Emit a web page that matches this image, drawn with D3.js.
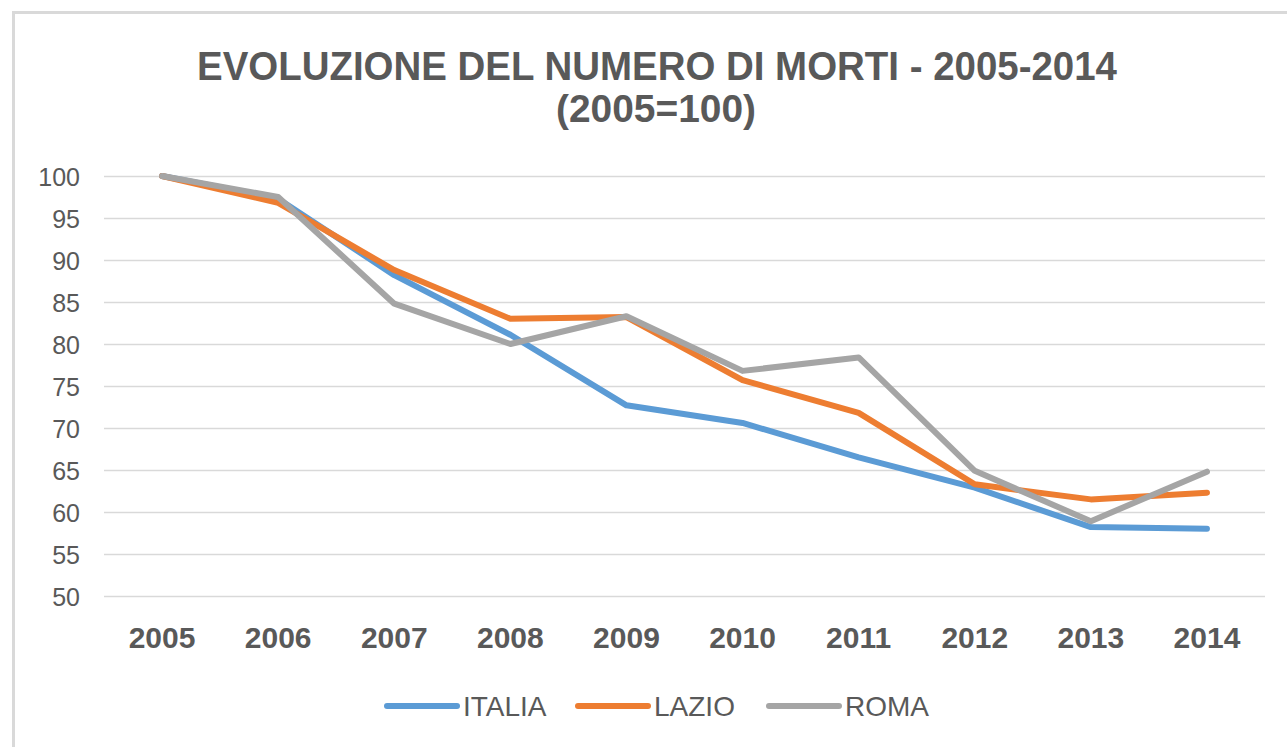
<!DOCTYPE html>
<html>
<head>
<meta charset="utf-8">
<script src="https://cdnjs.cloudflare.com/ajax/libs/d3/7.8.5/d3.min.js"></script>
<style>
  body { margin: 0; background: #fff; }
  svg { display: block; }
</style>
</head>
<body>
<svg id="chart"></svg>
<script>
// dati (2005 = 100)
var anni = ['2005', '2006', '2007', '2008', '2009', '2010', '2011', '2012', '2013', '2014'];
var italia = [100, 97.3, 88.2, 81.1, 72.7, 70.6, 66.5, 62.9, 58.2, 58.0];
var lazio = [100, 96.8, 88.8, 83.0, 83.2, 75.7, 71.8, 63.3, 61.5, 62.3];
var roma = [100, 97.5, 84.8, 80.0, 83.3, 76.8, 78.4, 64.9, 58.9, 64.8];
var yTicks = [50, 55, 60, 65, 70, 75, 80, 85, 90, 95, 100];
var serieNomi = ['ITALIA', 'LAZIO', 'ROMA'];
var serieColori = ['#5B9BD5', '#ED7D31', '#A5A5A5'];

var width = 1287, height = 747;
// niente "top": e' window.top
var plotLeft = 104, plotRight = 1265, plotTop = 176, plotBottom = 596;
var grigio = '#595959';

var svg = d3.select('#chart')
    .attr('width', width)
    .attr('height', height);

// cornice del grafico (esce dalla pagina a destra e in basso)
svg.append('rect')
    .attr('x', 13.5).attr('y', 12.5)
    .attr('width', 1400).attr('height', 900)
    .attr('fill', 'none')
    .attr('stroke', '#D9D9D9')
    .attr('stroke-width', 3);

var x = d3.scaleBand()
    .domain(anni)
    .range([plotLeft, plotRight]);

var y = d3.scaleLinear()
    .domain([50, 100])
    .range([plotBottom, plotTop]);

// griglia orizzontale
svg.append('g')
    .selectAll('line')
    .data(yTicks)
    .enter()
    .append('line')
    .attr('x1', plotLeft).attr('x2', plotRight)
    .attr('y1', function(d) { return Math.round(y(d)) + 0.5; })
    .attr('y2', function(d) { return Math.round(y(d)) + 0.5; })
    .attr('stroke', '#D9D9D9')
    .attr('stroke-width', 1.5);

// asse Y
var yAxis = d3.axisLeft(y).tickValues(yTicks).tickSize(0).tickPadding(0);
var gy = svg.append('g')
    .attr('transform', 'translate(80,0)')
    .call(yAxis);
gy.select('.domain').remove();
gy.selectAll('text')
    .attr('font-family', 'Liberation Sans, Arial, sans-serif')
    .attr('font-size', 25)
    .attr('fill', grigio)
    .attr('dy', '0.36em');

// asse X
var xAxis = d3.axisBottom(x).tickSize(0).tickPadding(0);
var gx = svg.append('g')
    .attr('transform', 'translate(0,' + plotBottom + ')')
    .call(xAxis);
gx.select('.domain').remove();
gx.selectAll('text')
    .attr('font-family', 'Liberation Sans, Arial, sans-serif')
    .attr('font-size', 30)
    .attr('font-weight', 'bold')
    .attr('fill', grigio)
    .attr('y', 52)
    .attr('dy', 0);

// linee
var serie = [italia, lazio, roma];
var line = d3.line()
    .x(function(d, i) { return x(anni[i]) + x.bandwidth() / 2; })
    .y(function(d) { return y(d); });

svg.append('g')
    .selectAll('path')
    .data(serie)
    .enter()
    .append('path')
    .attr('d', line)
    .attr('fill', 'none')
    .attr('stroke', function(d, i) { return serieColori[i]; })
    .attr('stroke-width', 6)
    .attr('stroke-linejoin', 'round')
    .attr('stroke-linecap', 'round');

// titolo
svg.append('text')
    .attr('x', 657).attr('y', 80)
    .attr('text-anchor', 'middle')
    .attr('font-family', 'Liberation Sans, Arial, sans-serif')
    .attr('font-size', 41)
    .attr('font-weight', 'bold')
    .attr('fill', grigio)
    .attr('textLength', 920)
    .attr('lengthAdjust', 'spacingAndGlyphs')
    .text('EVOLUZIONE DEL NUMERO DI MORTI - 2005-2014');

svg.append('text')
    .attr('x', 656).attr('y', 122)
    .attr('text-anchor', 'middle')
    .attr('font-family', 'Liberation Sans, Arial, sans-serif')
    .attr('font-size', 38)
    .attr('font-weight', 'bold')
    .attr('fill', grigio)
    .attr('textLength', 200)
    .attr('lengthAdjust', 'spacingAndGlyphs')
    .text('(2005=100)');

// legenda
var legX = [387, 578, 769];
var leg = svg.append('g')
    .selectAll('g')
    .data(serieNomi)
    .enter()
    .append('g')
    .attr('transform', function(d, i) { return 'translate(' + legX[i] + ',706)'; });

leg.append('line')
    .attr('x1', 0).attr('x2', 70)
    .attr('stroke', function(d, i) { return serieColori[i]; })
    .attr('stroke-width', 6)
    .attr('stroke-linecap', 'round');

leg.append('text')
    .attr('x', 76).attr('y', 10)
    .attr('font-family', 'Liberation Sans, Arial, sans-serif')
    .attr('font-size', 28)
    .attr('fill', grigio)
    .text(function(d) { return d; });
</script>
</body>
</html>
